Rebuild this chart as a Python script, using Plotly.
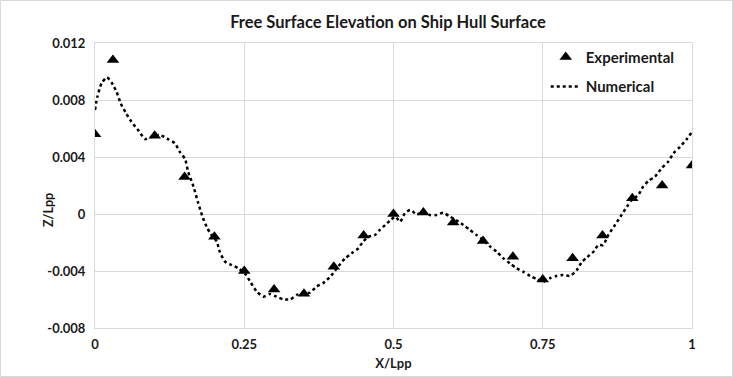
import plotly.graph_objects as go

# Experimental data
exp_x = [0.0, 0.03, 0.10, 0.15, 0.20, 0.25, 0.30, 0.35, 0.40, 0.45, 0.50,
         0.55, 0.60, 0.65, 0.70, 0.75, 0.80, 0.85, 0.90, 0.95, 1.0]
exp_y = [0.0056, 0.0108, 0.0055, 0.0026, -0.0016, -0.0040, -0.0053, -0.0056,
         -0.0037, -0.0015, 0.0000, 0.0001, -0.0006, -0.0019, -0.0030, -0.0046,
         -0.0031, -0.0015, 0.0011, 0.0020, 0.0034]

# Numerical data (traced)
num_x = [0.000, 0.004, 0.011, 0.020, 0.028, 0.036, 0.043, 0.052, 0.061, 0.073,
         0.084, 0.095, 0.109, 0.123, 0.134, 0.142, 0.151, 0.156, 0.165, 0.173,
         0.181, 0.188, 0.194, 0.204, 0.209, 0.218, 0.229, 0.240, 0.251, 0.260,
         0.271, 0.282, 0.293, 0.304, 0.315, 0.327, 0.338, 0.349, 0.360, 0.371,
         0.382, 0.394, 0.405, 0.419, 0.430, 0.441, 0.449, 0.458, 0.469, 0.477,
         0.486, 0.494, 0.503, 0.511, 0.519, 0.528, 0.539, 0.550, 0.561, 0.572,
         0.583, 0.595, 0.609, 0.617, 0.628, 0.639, 0.650, 0.662, 0.673, 0.684,
         0.695, 0.706, 0.717, 0.729, 0.740, 0.751, 0.762, 0.773, 0.784, 0.796,
         0.807, 0.815, 0.824, 0.835, 0.843, 0.851, 0.860, 0.871, 0.882, 0.891,
         0.899, 0.910, 0.918, 0.927, 0.938, 0.949, 0.960, 0.969, 0.980, 0.991,
         0.999]
num_y = [0.00730, 0.00823, 0.00917, 0.00959, 0.00921, 0.00858, 0.00777, 0.00707, 0.00648, 0.00585,
         0.00526, 0.00542, 0.00554, 0.00524, 0.00496, 0.00437, 0.00384, 0.00297, 0.00192, 0.00075,
         -0.00030, -0.00098, -0.00140, -0.00194, -0.00265, -0.00335, -0.00358, -0.00381, -0.00416, -0.00475,
         -0.00545, -0.00580, -0.00561, -0.00580, -0.00599, -0.00599, -0.00568, -0.00556, -0.00552, -0.00510,
         -0.00486, -0.00440, -0.00381, -0.00311, -0.00276, -0.00241, -0.00194, -0.00159, -0.00147, -0.00112,
         -0.00077, -0.00047, -0.00019, -0.00054, 0.00005, 0.00028, -0.00002, 0.00016, -0.00007, -0.00007,
         0.00009, -0.00019, -0.00054, -0.00077, -0.00112, -0.00147, -0.00182, -0.00229, -0.00265, -0.00311,
         -0.00346, -0.00381, -0.00405, -0.00435, -0.00458, -0.00475, -0.00451, -0.00435, -0.00428, -0.00435,
         -0.00393, -0.00340, -0.00304, -0.00265, -0.00218, -0.00218, -0.00147, -0.00077, -0.00007, 0.00051,
         0.00098, 0.00133, 0.00192, 0.00232, 0.00262, 0.00321, 0.00367, 0.00426, 0.00472, 0.00524,
         0.00571]

x_ticks = [0, 0.25, 0.5, 0.75, 1]
x_tick_labels = ["0", "0.25", "0.5", "0.75", "1"]
y_ticks = [-0.008, -0.004, 0, 0.004, 0.008, 0.012]
y_tick_labels = ["-0.008", "-0.004", "0", "0.004", "0.008", "0.012"]

FONT = "Lato"
GRID = "#d9d9d9"
TXT = "#1a1a1a"

fig = go.Figure()
fig.add_trace(go.Scatter(
    x=exp_x, y=exp_y, mode="markers", name="Experimental", legendgroup="a",
    marker=dict(symbol="triangle-up", size=11, color="black"),
))
fig.add_trace(go.Scatter(
    x=num_x, y=num_y, mode="lines", name="Numerical", legendgroup="b",
    line=dict(color="black", width=2.5, dash="dot", shape="spline", smoothing=0.6),
))

fig.update_layout(
    width=733, height=377,
    margin=dict(l=95, r=41, t=43, b=49, autoexpand=False),
    paper_bgcolor="white", plot_bgcolor="white",
    font=dict(family=FONT, color=TXT, size=12),
    title=dict(text="Free Surface Elevation on Ship Hull Surface",
               x=388 / 733, xanchor="center", y=1 - 22 / 377, yanchor="middle",
               font=dict(family=FONT, size=16.5, color=TXT, weight="bold")),
    showlegend=True,
    legend=dict(x=0.755, y=1.008, xanchor="left", yanchor="top",
                bgcolor="rgba(0,0,0,0)", tracegroupgap=7,
                font=dict(family=FONT, size=15, color=TXT, weight="bold")),
    xaxis=dict(range=[0, 1], tickvals=x_ticks, ticktext=x_tick_labels,
               showgrid=True, gridcolor=GRID, gridwidth=1,
               showline=True, linecolor=GRID, linewidth=1, mirror=True,
               zeroline=False, ticks="", ticklabelstandoff=4,
               tickfont=dict(family=FONT, size=13, color=TXT, weight="bold"),
               title=dict(text="X/Lpp", standoff=8,
                          font=dict(family=FONT, size=13, color=TXT, weight="bold"))),
    yaxis=dict(range=[-0.008, 0.012], tickvals=y_ticks, ticktext=y_tick_labels,
               showgrid=True, gridcolor=GRID, gridwidth=1,
               showline=True, linecolor=GRID, linewidth=1, mirror=True,
               zeroline=True, zerolinecolor=GRID, zerolinewidth=1,
               ticks="", ticklabelstandoff=6,
               tickfont=dict(family=FONT, size=13, color=TXT, weight="bold")),
    annotations=[dict(text="Z/Lpp", xref="paper", yref="paper",
                      x=(48 - 95) / 597, y=(328 - 210) / 285,
                      xanchor="center", yanchor="middle", textangle=-90,
                      showarrow=False,
                      font=dict(family=FONT, size=12.5, color=TXT, weight="bold"))],
    shapes=[dict(type="rect", xref="paper", yref="paper",
                 x0=(0.5 - 95) / 597, x1=(732.5 - 95) / 597,
                 y0=(328 - 376.5) / 285, y1=(328 - 0.5) / 285,
                 line=dict(color=GRID, width=1), fillcolor="rgba(0,0,0,0)",
                 layer="below")],
)

fig.write_html("out.html", config={"displayModeBar": False},
               post_script="document.body.style.margin='0';document.body.style.overflow='hidden';")
